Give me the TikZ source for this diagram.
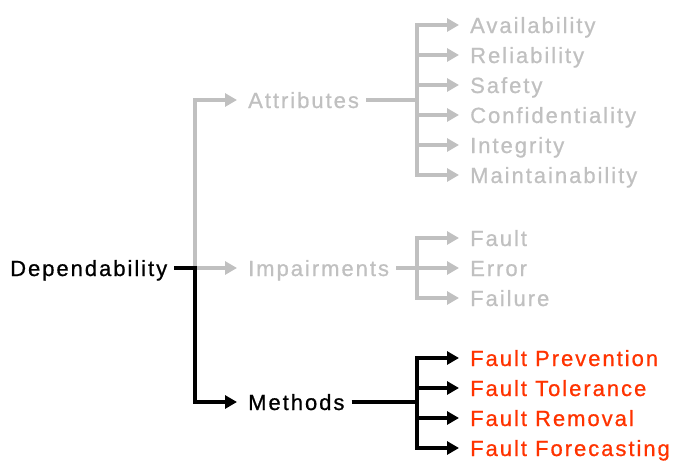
\documentclass[tikz,border=0pt]{standalone}
\usepackage{fontspec}
\newfontfamily\labelfont{Liberation Sans}[LetterSpace=9,FakeBold=0.8]
\usetikzlibrary{arrows.meta}
\definecolor{lightgrey}{RGB}{192,192,192}
\definecolor{methodred}{RGB}{255,51,0}
\begin{document}
\begin{tikzpicture}[x=1pt,y=-1pt,
  label/.style={anchor=west,inner sep=0pt,text height=16pt,text depth=0pt,
    font=\labelfont\fontsize{22}{22}\selectfont},
  greyline/.style={draw=lightgrey,line width=3.5pt},
  blackline/.style={draw=black,line width=3.8pt},
  tip/.style={-{Triangle[length=12pt,width=13pt]},shorten >=11pt},
  lead/.style={shorten <=7pt}]
\useasboundingbox (0,0) rectangle (673,461);

% root and first level
\node[label] (dep) at (10,268) {Dependability};
\node[label,text=lightgrey] (attr) at (248,100) {Attributes};
\node[label,text=lightgrey] (imp) at (248,268) {Impairments};
\node[label] (meth) at (248,402) {Methods};

% attributes
\node[label,text=lightgrey] (a1) at (470,25) {Availability};
\node[label,text=lightgrey] (a2) at (470,55) {Reliability};
\node[label,text=lightgrey] (a3) at (470,85) {Safety};
\node[label,text=lightgrey] (a4) at (470,115) {Confidentiality};
\node[label,text=lightgrey] (a5) at (470,145) {Integrity};
\node[label,text=lightgrey] (a6) at (470,175) {Maintainability};

% impairments
\node[label,text=lightgrey] (i1) at (470,238) {Fault};
\node[label,text=lightgrey] (i2) at (470,268) {Error};
\node[label,text=lightgrey] (i3) at (470,298) {Failure};

% methods
\node[label,text=methodred] (m1) at (470,358) {Fault Prevention};
\node[label,text=methodred] (m2) at (470,388) {Fault Tolerance};
\node[label,text=methodred] (m3) at (470,418) {Fault Removal};
\node[label,text=methodred] (m4) at (470,448) {Fault Forecasting};

% junction points
\coordinate (jroot) at (195,268);
\coordinate (jattr) at (417,100);
\coordinate (jimp) at (417,268);
\coordinate (jmeth) at (417,402);

% grey branches
\draw[greyline,tip] (jroot) |- (attr.west);
\draw[greyline,tip] (jroot) -- (imp.west);
\draw[greyline,lead] (attr.east) -- (jattr);
\foreach \n in {a1,a2,a3,a4,a5,a6}
  \draw[greyline,tip] (jattr) |- (\n.west);
\draw[greyline,lead] (imp.east) -- (jimp);
\foreach \n in {i1,i2,i3}
  \draw[greyline,tip] (jimp) |- (\n.west);

% black branches
\draw[blackline,lead] (dep.east) -- ([xshift=1.9pt]jroot);
\draw[blackline,tip] ([yshift=-1.9pt]jroot) |- (meth.west);
\draw[blackline,lead] (meth.east) -- (jmeth);
\foreach \n in {m1,m2,m3,m4}
  \draw[blackline,tip] (jmeth) |- (\n.west);
\end{tikzpicture}
\end{document}
